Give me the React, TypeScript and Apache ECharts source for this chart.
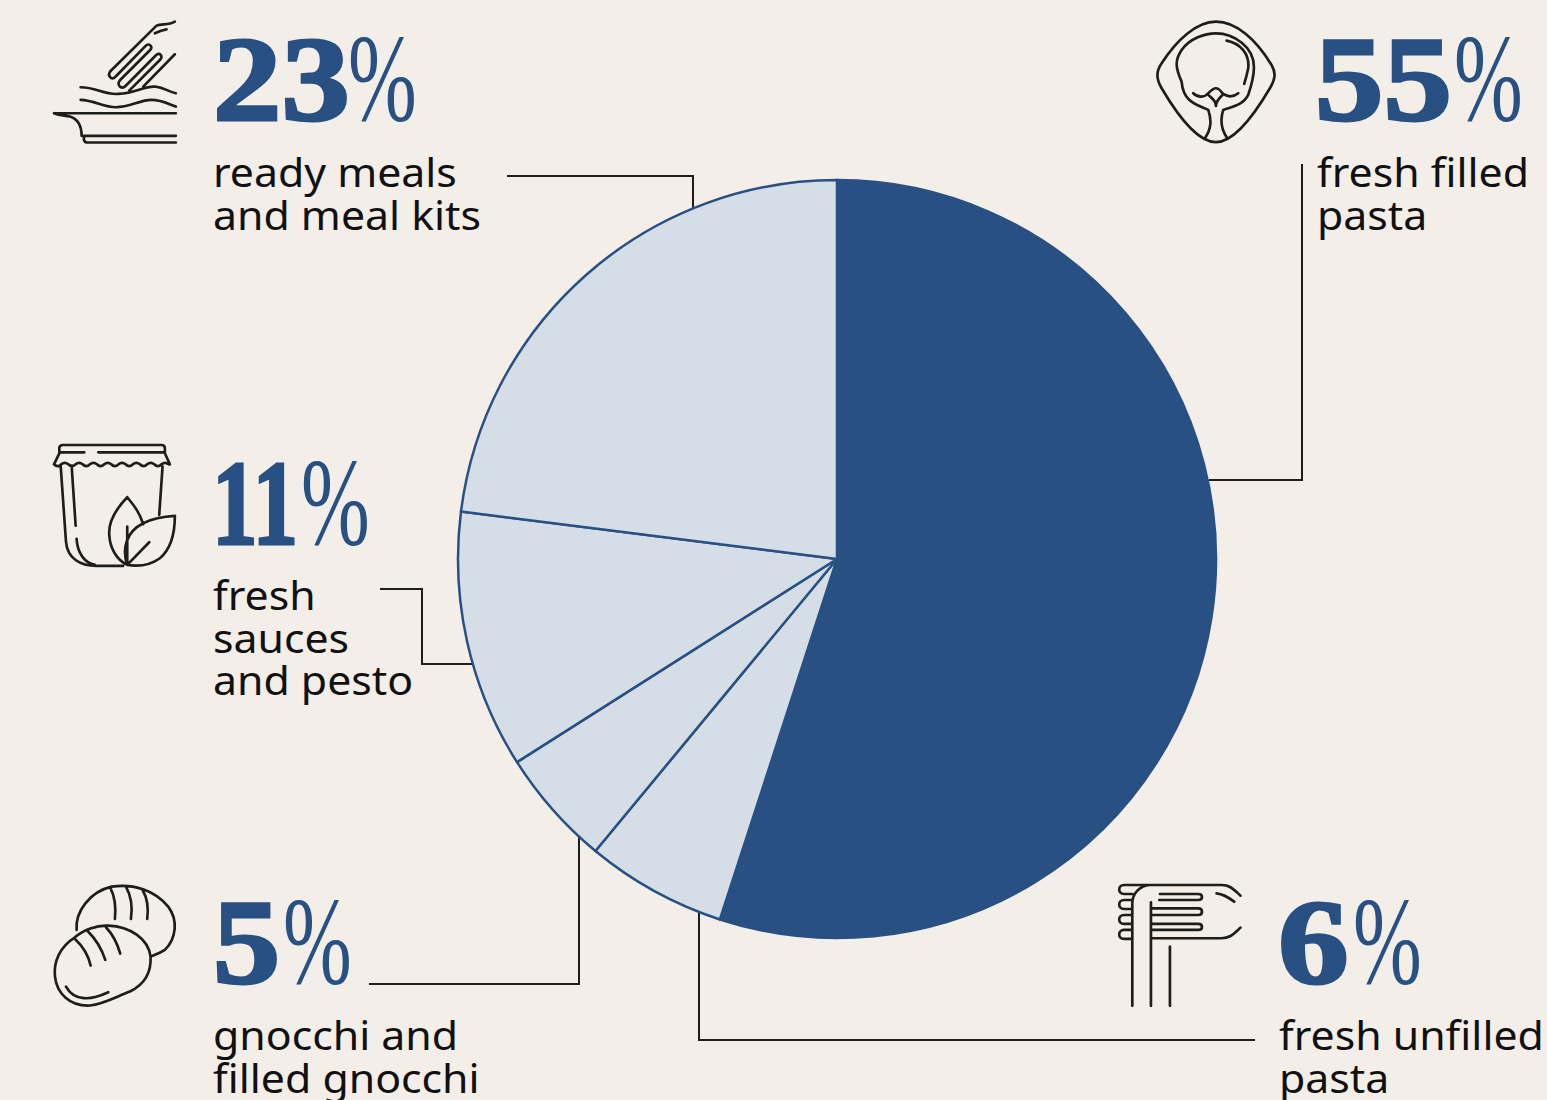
import React, { useEffect, useRef } from "react";
import * as echarts from "echarts";

// Fresh-product share of the range, clockwise from twelve o'clock.
const categories = [
  "fresh filled pasta",
  "fresh unfilled pasta",
  "gnocchi and filled gnocchi",
  "fresh sauces and pesto",
  "ready meals and meal kits",
];
const shareValues = [55, 6, 5, 11, 23];
const percentLabels = ["55", "6", "5", "11", "23"];
const captionLines = [
  ["fresh filled", "pasta"],
  ["fresh unfilled", "pasta"],
  ["gnocchi and", "filled gnocchi"],
  ["fresh", "sauces", "and pesto"],
  ["ready meals", "and meal kits"],
];

const BG = "#f3eee8";
const DARK = "#295082";
const LIGHT = "#d5dde7";
const INK = "#1d1d1b";

const ICON_PATHS: Record<string, string> = {
  iconLasagne:
    "M42 310 L408 310 M42 310 C60 318 75 316 90 320 C115 328 125 350 125 378 L408 378 M132 378 L132 390 Q134 398 142 398 L408 398 " +
    "M122 232 C170 232 190 255 235 252 C290 250 310 228 345 230 C370 232 385 245 408 250 " +
    "M122 270 C165 272 190 292 228 292 C270 292 300 270 335 270 C365 270 385 282 408 290 " +
    "M405 35 C385 47 365 40 350 47 L212 183 C205 192 206 198 212 203 C218 207 224 204 228 199 L318 107 C324 101 330 104 333 108 C336 113 334 117 330 121 L240 211 C234 218 235 226 241 231 C247 235 252 233 256 229 L349 135 C355 129 361 132 364 137 C366 142 364 146 360 150 L268 242 " +
    "M405 133 L310 230 M345 70 Q365 60 380 58",
  iconRaviolo:
    "M228 35 C290 35 350 90 395 165 C410 190 405 210 390 235 C340 320 280 397 228 397 C175 397 115 320 65 235 C48 205 48 185 65 160 C110 90 170 35 228 35 Z " +
    "M195 385 C215 355 215 330 205 300 C175 285 130 280 125 215 C105 170 105 150 125 120 C150 85 195 70 228 70 C280 70 345 110 342 175 C342 200 335 225 325 255 C310 285 280 290 250 300 C240 330 245 360 262 385 " +
    "M260 92 C300 100 330 130 325 175 C322 190 318 205 313 222 " +
    "M160 250 C175 265 195 262 205 250 C215 240 220 235 228 235 C238 235 243 245 250 252 C265 262 280 262 295 250 " +
    "M205 255 C215 265 228 270 228 288 C228 270 243 262 250 252",
  iconJar:
    "M58 55 L58 38 Q60 30 68 30 L365 30 Q375 30 375 40 L375 55 M60 52 L133 52 M175 52 L370 52 M58 55 L42 88 M375 55 L390 88 " +
    "M42 88 q11 11 21.5 0 q11 -8 21.5 0 q11 11 21.5 0 q11 -8 21.5 0 q11 11 21.5 0 q11 -8 21.5 0 q11 11 21.5 0 q11 -8 21.5 0 q11 11 21.5 0 q11 -8 21.5 0 q11 11 21.5 0 q11 -8 21.5 0 q11 11 21.5 0 q11 -8 21.5 0 q11 11 21.5 0 q11 -8 21.5 0 " +
    "M62 92 L78 320 C82 370 120 393 170 393 L250 393 M95 92 L107 272 M110 312 C112 355 135 385 165 390 M368 95 L358 240 " +
    "M262 187 C230 220 205 260 208 300 C210 340 230 375 262 390 M262 187 C285 215 300 235 310 268 M262 275 L262 390 " +
    "M262 390 C245 340 260 290 310 265 C340 250 370 245 405 243 C405 290 395 340 360 370 C330 392 295 395 262 390 M262 390 L328 322",
  iconGnocchi:
    "M110 165 C105 110 150 50 215 35 C280 25 345 45 385 95 C415 135 410 190 375 225 C360 235 345 240 333 245 " +
    "M212 40 C225 65 228 100 225 132 M258 35 C275 65 278 100 273 132 M308 45 C323 70 326 100 322 132 " +
    "M105 187 C60 215 40 260 45 305 C50 355 90 395 150 392 C190 388 230 365 270 350 C310 330 335 295 332 245 C325 190 270 155 205 152 C170 150 130 165 105 187 Z " +
    "M105 192 C130 215 145 240 152 272 M143 168 C170 195 185 220 196 255 M198 157 C220 180 232 205 241 236 M78 335 C100 375 145 380 205 352",
  iconTagliatelle:
    "M422 62 C400 42 390 30 365 30 L150 30 C120 32 97 55 97 85 L97 393 " +
    "M150 30 L72 30 C53 30 53 57 72 57 L97 57 M97 75 L72 75 C53 75 53 102 72 102 L97 102 M97 120 L72 120 C53 120 53 147 72 147 L97 147 M97 165 L72 165 C53 165 53 192 72 192 L97 192 " +
    "M180 57 L295 57 C310 57 310 75 295 75 L178 75 M155 100 L295 100 C310 100 310 120 295 120 L155 120 M155 147 L295 147 C310 147 310 165 295 165 L155 165 " +
    "M155 190 L365 190 C390 190 400 178 422 158 M153 82 L153 393 M210 215 L210 393 M350 55 C375 58 390 70 403 80",
};

Object.keys(ICON_PATHS).forEach((name) => {
  echarts.graphic.registerShape(name, echarts.graphic.extendPath(ICON_PATHS[name], {}));
});

const iconPlacement = [
  { type: "iconLasagne", x: 40, y: 10 },
  { type: "iconRaviolo", x: 1140, y: 10 },
  { type: "iconJar", x: 40, y: 435 },
  { type: "iconGnocchi", x: 40, y: 875 },
  { type: "iconTagliatelle", x: 1100, y: 875 },
];

const leaderLines = [
  [[507, 176], [693, 176], [693, 208]],
  [[1302, 164], [1302, 480], [1209, 480]],
  [[380, 589], [422, 589], [422, 664], [473, 664]],
  [[369, 984], [579, 984], [579, 835]],
  [[699, 912], [699, 1040], [1255, 1040]],
];

// Index into the category arrays, plus where each figure and caption sit.
const callouts = [
  { i: 0, x: 1315, base: 121, stretch: 1.14, pct: 1454, capX: 1317, capY: 187 },
  { i: 1, x: 1278, base: 984, stretch: 1.18, pct: 1353, capX: 1279, capY: 1050 },
  { i: 2, x: 213, base: 984, stretch: 1.12, pct: 283, capX: 213, capY: 1050 },
  { i: 3, x: 212, base: 545, stretch: 0.76, pct: 301, capX: 213, capY: 610 },
  { i: 4, x: 213, base: 121, stretch: 1.14, pct: 348, capX: 213, capY: 187 },
];

const FIGURE_FONT = "'Liberation Serif', serif";
const BODY_FONT = "'Noto Sans', sans-serif";
const FIGURE_DROP = 18;
const PERCENT_DROP = 20;
const CAPTION_DROP = 5;

function buildGraphics() {
  const items: any[] = [];
  iconPlacement.forEach((p) => {
    items.push({
      type: p.type,
      x: p.x,
      y: p.y,
      scaleX: 1 / 3,
      scaleY: 1 / 3,
      style: { fill: "none", stroke: INK, lineWidth: 8, lineCap: "round", lineJoin: "round" },
    });
  });
  leaderLines.forEach((points) => {
    items.push({
      type: "polyline",
      shape: { points },
      style: { fill: "none", stroke: INK, lineWidth: 2 },
    });
  });
  callouts.forEach((c) => {
    items.push({
      type: "text",
      x: c.x,
      y: c.base + FIGURE_DROP,
      scaleX: c.stretch,
      style: {
        text: percentLabels[c.i],
        font: `bold 120px ${FIGURE_FONT}`,
        fill: DARK,
        stroke: DARK,
        lineWidth: 3,
        textAlign: "left",
        textVerticalAlign: "bottom",
      },
    });
    items.push({
      type: "text",
      x: c.pct,
      y: c.base + PERCENT_DROP,
      scaleX: 0.66,
      style: {
        text: "%",
        font: `125px ${FIGURE_FONT}`,
        fill: DARK,
        textAlign: "left",
        textVerticalAlign: "bottom",
      },
    });
    captionLines[c.i].forEach((line, k) => {
      items.push({
        type: "text",
        x: c.capX,
        y: c.capY + k * 42.5 + CAPTION_DROP,
        scaleX: 1.07,
        style: {
          text: line,
          font: `40px ${BODY_FONT}`,
          fill: "#111111",
          textAlign: "left",
          textVerticalAlign: "bottom",
        },
      });
    });
  });
  return items;
}

export default function App() {
  const ref = useRef<HTMLDivElement>(null);
  useEffect(() => {
    document.body.style.margin = "0";
    const chart = echarts.init(ref.current!, undefined, { renderer: "svg" });
    chart.setOption({
      animation: false,
      backgroundColor: BG,
      series: [
        {
          type: "pie",
          center: [837, 559],
          radius: [0, 379],
          startAngle: 90,
          clockwise: true,
          label: { show: false },
          labelLine: { show: false },
          silent: true,
          itemStyle: { borderColor: DARK, borderWidth: 2.5 },
          data: categories.map((name, i) => ({
            name,
            value: shareValues[i],
            itemStyle: { color: i === 0 ? DARK : LIGHT },
          })),
        },
      ],
      graphic: { elements: buildGraphics() },
    });
    return () => chart.dispose();
  }, []);
  return <div ref={ref} style={{ width: 1547, height: 1100 }} />;
}
